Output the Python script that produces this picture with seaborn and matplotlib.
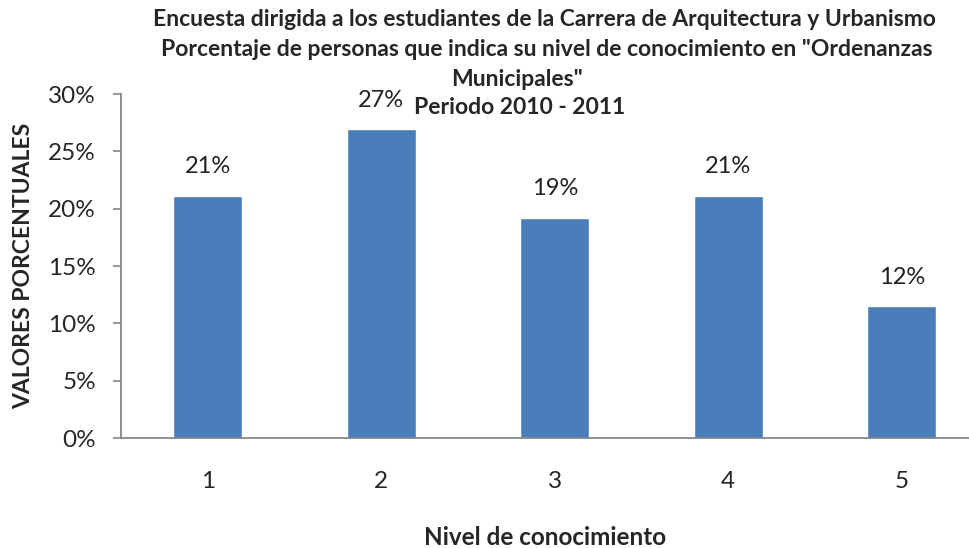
import numpy as np
import pandas as pd
import matplotlib
matplotlib.use("Agg")
import matplotlib.pyplot as plt
from matplotlib.ticker import PercentFormatter
import seaborn as sns

# datos
niveles = ["1", "2", "3", "4", "5"]
valores = [0.2115, 0.2692, 0.1923, 0.2115, 0.1154]
etiquetas_y = [0, 0.05, 0.10, 0.15, 0.20, 0.25, 0.30]

titulo = [
    "Encuesta dirigida a los estudiantes de la Carrera de Arquitectura y Urbanismo",
    'Porcentaje de personas que indica su nivel de conocimiento en "Ordenanzas',
    'Municipales"',
    "Periodo 2010 - 2011",
]

sns.set_style("white")
plt.rcParams["font.family"] = ["Lato", "DejaVu Sans"]

df = pd.DataFrame({"nivel": niveles, "valor": valores})

fig = plt.figure(figsize=(9.69, 5.48), dpi=100)
ax = fig.add_axes([0.1249, 0.2007, 0.8751, 0.6277])

sns.barplot(data=df, x="nivel", y="valor", color="#4A7EBB", saturation=1,
            width=0.40, ax=ax)

ax.bar_label(ax.containers[0], labels=[f"{v:.0%}" for v in valores],
             padding=13, fontsize=17, color="#222222")

# el area del grafico sigue un poco mas alla del borde derecho
ax.set_ylim(0, 0.30)
ax.set_xlim(-0.5, 4.388)
ax.set_yticks(etiquetas_y)
ax.yaxis.set_major_formatter(PercentFormatter(1.0, decimals=0))
ax.tick_params(axis="y", length=6, width=1.2, color="#868686", direction="out",
               labelsize=17.5, pad=12, left=True)
ax.tick_params(axis="x", length=0, labelsize=17.5, pad=24)

sns.despine(ax=ax, top=True, right=True)
for s in ["left", "bottom"]:
    ax.spines[s].set_color("#868686")
    ax.spines[s].set_linewidth(1.3)

ax.set_xlabel("Nivel de conocimiento", fontsize=17.5, fontweight="bold", labelpad=24)
ax.set_ylabel("VALORES PORCENTUALES", fontsize=16.5, fontweight="bold", labelpad=10)

# titulo en cuatro lineas
ys = [19, 49, 79, 107]
xs = [544, 547, 517, 520]
for t, x, y in zip(titulo, xs, ys):
    fig.text(x / 969, 1 - y / 548, t, ha="center", va="center",
             fontsize=16.5, fontweight="bold")

fig.savefig("out.png", dpi=100)
